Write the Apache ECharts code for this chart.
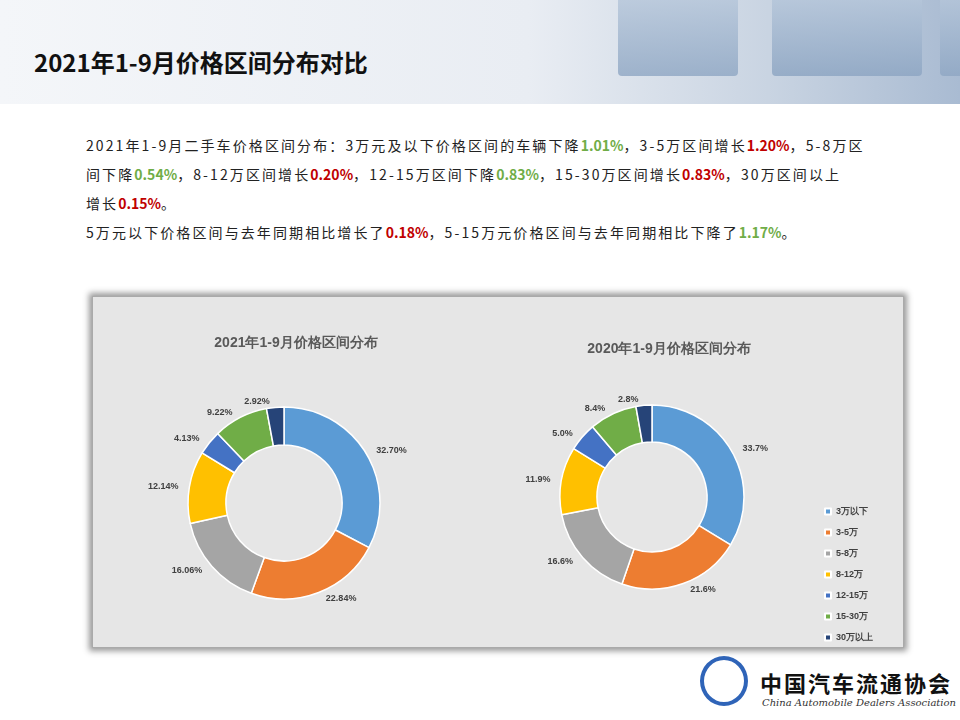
<!DOCTYPE html>
<html>
<head>
<meta charset="utf-8">
<style>
  body, html { margin: 0; padding: 0; width: 960px; height: 720px; overflow: hidden; background: #fff;
    font-family: "Noto Sans CJK SC", "Noto Sans", sans-serif; }
  .header { position: absolute; left: 0; top: 0; width: 960px; height: 104px;
    background: linear-gradient(90deg, #f4f6f9 0%, #e9edf3 55%, #c9d4e2 80%, #a9bbd2 100%); }
  .cube { position: absolute; top: -10px; height: 86px; background: linear-gradient(180deg,#b9c9dc,#8ea6c3); border-radius: 4px; }
  .title { position: absolute; left: 34px; top: 44px; font-size: 24px; font-weight: bold; color: #111; }
  .text { position: absolute; left: 86px; top: 131px; width: 860px; font-size: 14px; color: #222; line-height: 29px; white-space: nowrap; letter-spacing: 2.1px; }
  .g { color: #70AD47; font-weight: bold; letter-spacing: 0; }
  .r { color: #C00000; font-weight: bold; letter-spacing: 0; }
  .panel { position: absolute; left: 92px; top: 296px; width: 810px; height: 350px; background: #e6e6e6;
    border: 1px solid #aaa; box-shadow: 0 0 6px 3px #999; }
  #chart-wrapper { width: 810px; height: 350px; }
  .logo { position: absolute; left: 760px; top: 666px; font-size: 22px; font-weight: bold; color: #111; letter-spacing: 2px; font-family: "Noto Sans CJK SC"; }
  .logo2 { position: absolute; left: 762px; top: 697px; font-size: 10px; font-style: italic; color: #333; font-family: "DejaVu Serif"; }
  .mark { position: absolute; left: 700px; top: 656px; width: 48px; height: 50px; border-radius: 50%;
    border: 4px solid #2f64b8; box-sizing: border-box; }
</style>
</head>
<body>
<div class="header">
  <div class="cube" style="left:618px;width:120px;opacity:.8"></div>
  <div class="cube" style="left:772px;width:150px;opacity:.85"></div>
  <div class="cube" style="left:940px;width:30px;opacity:.8"></div>
</div>
<div class="title">2021年1-9月价格区间分布对比</div>
<div class="text">
2021年1-9月二手车价格区间分布：3万元及以下价格区间的车辆下降<span class="g">1.01%</span>，3-5万区间增长<span class="r">1.20%</span>，5-8万区<br>
间下降<span class="g">0.54%</span>，8-12万区间增长<span class="r">0.20%</span>，12-15万区间下降<span class="g">0.83%</span>，15-30万区间增长<span class="r">0.83%</span>，30万区间以上<br>
增长<span class="r">0.15%</span>。<br>
5万元以下价格区间与去年同期相比增长了<span class="r">0.18%</span>，5-15万元价格区间与去年同期相比下降了<span class="g">1.17%</span>。
</div>
<div class="panel"><div id="chart-wrapper"></div></div>
<div class="mark"></div>
<div class="logo">中国汽车流通协会</div>
<div class="logo2">China Automobile Dealers Association</div>

<script src="https://cdn.jsdelivr.net/npm/echarts@6/dist/echarts.min.js"></script>
<script>
  const categories = ["3万以下", "3-5万", "5-8万", "8-12万", "12-15万", "15-30万", "30万以上"];
  const values2021 = [32.70, 22.84, 16.06, 12.14, 4.13, 9.22, 2.92];
  const values2020 = [33.7, 21.6, 16.6, 11.9, 5.0, 8.4, 2.8];
  const colors = ["#5B9BD5", "#ED7D31", "#A5A5A5", "#FFC000", "#4472C4", "#70AD47", "#264478"];

  const chart = echarts.init(document.getElementById("chart-wrapper"));

  const makePie = (name, vals, center, radius, digits) => ({
    type: "pie",
    name: name,
    center: center,
    radius: radius,
    startAngle: 90,
    clockwise: true,
    avoidLabelOverlap: false,
    itemStyle: { borderColor: "#ffffff", borderWidth: 1.5 },
    label: {
      position: "outside",
      fontSize: 9,
      fontWeight: "bold",
      color: "#404040",
      formatter: (p) => p.value.toFixed(digits) + "%",
    },
    labelLine: { show: false, length: 6, length2: 0 },
    data: categories.map((c, i) => ({ name: c, value: vals[i] })),
  });

  chart.setOption({
    animation: false,
    color: colors,
    title: [
      { text: "2021年1-9月价格区间分布", left: 198, top: 34, textAlign: "center",
        textStyle: { fontSize: 14, fontWeight: "bold", color: "#595959" } },
      { text: "2020年1-9月价格区间分布", left: 571, top: 40, textAlign: "center",
        textStyle: { fontSize: 14, fontWeight: "bold", color: "#595959" } },
    ],
    legend: {
      orient: "vertical",
      left: 726,
      top: 205,
      itemWidth: 6,
      itemHeight: 6,
      itemGap: 12,
      icon: "rect",
      textStyle: { fontSize: 9, fontWeight: "bold", color: "#404040" },
      data: categories,
    },
    series: [
      makePie("2021", values2021, [191, 206], [58, 96], 2),
      makePie("2020", values2020, [559, 200], [55, 92], 1),
    ],
  });
</script>
</body>
</html>
